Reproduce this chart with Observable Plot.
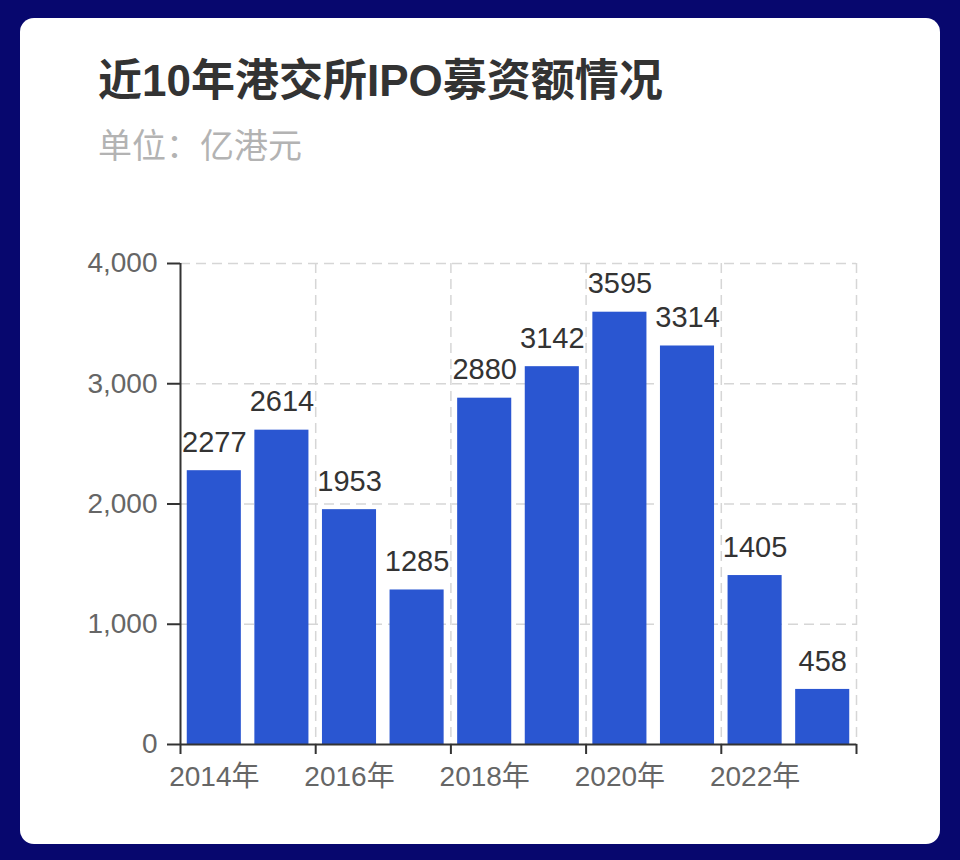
<!DOCTYPE html>
<html>
<head>
<meta charset="utf-8">
<script src="https://cdn.jsdelivr.net/npm/d3@7"></script>
<script src="https://cdn.jsdelivr.net/npm/@observablehq/plot@0.6"></script>
<style>
  html, body { margin: 0; padding: 0; }
  body { width: 960px; height: 860px; background: #07076e; position: relative; overflow: hidden;
         font-family: "Liberation Sans", "Noto Sans CJK SC", sans-serif; }
  #card { position: absolute; left: 20px; top: 18px; width: 920px; height: 826px; background: #fff; border-radius: 14px; }
  #title { position: absolute; left: 78px; top: 41px; font-size: 44px; line-height: 1; font-weight: bold; color: #333; white-space: nowrap; }
  #subtitle { position: absolute; left: 78px; top: 111px; font-size: 34px; line-height: 1; color: #b3b3b3; white-space: nowrap; }
  #chart { position: absolute; left: 0; top: 0; }
</style>
</head>
<body>
<div id="card">
  <div id="title">近10年港交所IPO募资额情况</div>
  <div id="subtitle">单位：亿港元</div>
  <div id="chart"></div>
</div>
<script>
const years = [2014, 2015, 2016, 2017, 2018, 2019, 2020, 2021, 2022, 2023];
const amounts = [2277, 2614, 1953, 1285, 2880, 3142, 3595, 3314, 1405, 458];
const yTicks = [0, 1000, 2000, 3000, 4000];
const xBoundaryTicks = [2014, 2016, 2018, 2020, 2022, 2024];
const xLabelYears = [2014, 2016, 2018, 2020, 2022];

const data = years.map((y, i) => ({year: y, value: amounts[i]}));

const fontFam = '"Liberation Sans", "Noto Sans CJK SC", sans-serif';

const chart = Plot.plot({
  width: 920,
  height: 826,
  marginLeft: 160,
  marginRight: 84,
  marginTop: 245,
  marginBottom: 100,
  style: {background: "transparent", fontFamily: fontFam},
  x: {type: "linear", domain: [2014, 2024], axis: null},
  y: {domain: [0, 4000], axis: null},
  marks: [
    Plot.gridY(yTicks.filter(d => d > 0), {stroke: "#d6d6d6", strokeOpacity: 1, strokeWidth: 1.5, strokeDasharray: "10,6"}),
    Plot.gridX(xBoundaryTicks.filter(d => d > 2014), {stroke: "#d6d6d6", strokeOpacity: 1, strokeWidth: 1.5, strokeDasharray: "10,6"}),
    Plot.rectY(data, {x1: d => d.year + 0.1, x2: d => d.year + 0.9, y: "value", fill: "#2a56d1"}),
    Plot.text(data, {x: d => d.year + 0.5, y: "value", text: d => String(d.value), dy: -28, fontSize: 29, fill: "#333"}),
    Plot.ruleX([2014], {stroke: "#333", strokeWidth: 2}),
    Plot.ruleY([0], {stroke: "#333", strokeWidth: 2}),
    Plot.axisY({ticks: yTicks, tickSize: 13, tickFormat: () => "", stroke: "#333", strokeWidth: 2, label: null}),
    Plot.axisY({ticks: yTicks, tickSize: 0, tickPadding: 23, tickFormat: d => d3.format(",")(d), fill: "#666", fontSize: 28, label: null}),
    Plot.axisX({ticks: xBoundaryTicks, tickSize: 10, tickFormat: () => "", stroke: "#333", strokeWidth: 2, label: null}),
    Plot.axisX({ticks: xLabelYears.map(y => y + 0.5), tickSize: 0, tickPadding: 22, tickFormat: d => `${Math.floor(d)}年`, fill: "#666", fontSize: 28, label: null})
  ]
});
document.getElementById("chart").appendChild(chart);
</script>
</body>
</html>
